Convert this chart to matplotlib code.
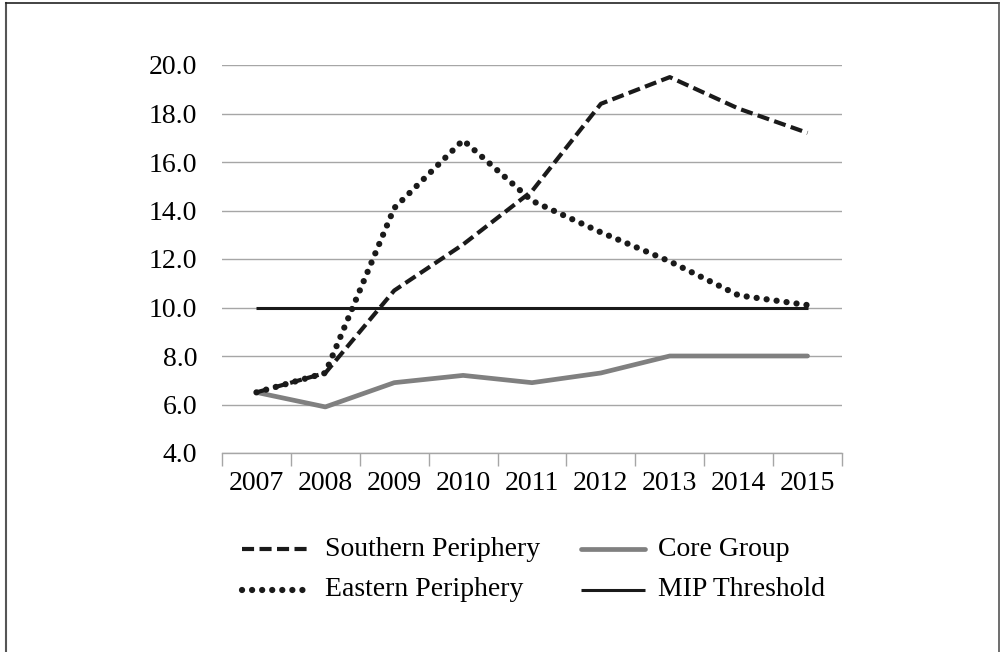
import matplotlib
matplotlib.use("Agg")
import matplotlib.pyplot as plt
from matplotlib.lines import Line2D
import numpy as np

years = ["2007", "2008", "2009", "2010", "2011", "2012", "2013", "2014", "2015"]
southern = [6.5, 7.3, 10.7, 12.6, 14.8, 18.4, 19.5, 18.2, 17.2]
eastern = [6.5, 7.3, 14.1, 16.9, 14.4, 13.1, 11.9, 10.5, 10.1]
core = [6.5, 5.9, 6.9, 7.2, 6.9, 7.3, 8.0, 8.0, 8.0]
mip = [10.0] * 9
yticks = [4, 6, 8, 10, 12, 14, 16, 18, 20]
labels = ["Southern Periphery", "Eastern Periphery", "Core Group", "MIP Threshold"]

plt.rcParams['font.family'] = ['Liberation Serif', 'DejaVu Serif']

W, H = 1001, 652
FS = 20
fig = plt.figure(figsize=(W / 100, H / 100), dpi=100)
ax = fig.add_axes([222 / W, 1 - 453 / H, (842 - 222) / W, (453 - 65) / H])

styles = {
    "Southern Periphery": dict(color='#1a1a1a', lw=3.0, linestyle=(0, (2.9, 1.3)), dash_capstyle='butt'),
    "Eastern Periphery": dict(color='#1a1a1a', lw=4.5, linestyle=(0, (0.01, 1.6)), dash_capstyle='round'),
    "Core Group": dict(color='#808080', lw=3.4, solid_capstyle='round'),
    "MIP Threshold": dict(color='#1a1a1a', lw=2.2, solid_capstyle='butt'),
}

x = np.arange(len(years))
ax.plot(x, mip, zorder=3, **styles["MIP Threshold"])
ax.plot(x, core, zorder=3, **styles["Core Group"])
ax.plot(x, southern, zorder=4, **styles["Southern Periphery"])
ax.plot(x, eastern, zorder=4, **styles["Eastern Periphery"])

ax.set_xlim(-0.5, len(years) - 0.5)
ax.set_ylim(4, 20)
ax.set_yticks(yticks)
ax.set_yticklabels([f"{v:.1f}" for v in yticks], fontsize=FS)
ax.yaxis.grid(True, color='#a6a6a6', lw=1.0)
ax.set_axisbelow(True)
ax.tick_params(axis='y', length=0, pad=18)

ax.set_xticks(x)
ax.set_xticklabels(years, fontsize=FS)
ax.set_xticks(np.arange(-0.5, len(years)), minor=True)
ax.tick_params(axis='x', which='major', length=0, pad=13)
ax.tick_params(axis='x', which='minor', length=9, color='#a6a6a6', width=1.0)

for s in ['left', 'right', 'top']:
    ax.spines[s].set_visible(False)
ax.spines['bottom'].set_color('#a6a6a6')
ax.spines['bottom'].set_linewidth(1.0)

# legend drawn manually (pixel positions)
def fx(px):
    return px / W

def fy(py):
    return 1 - py / H

leg_items = [
    ("Southern Periphery", 242, 312, 325, 549),
    ("Eastern Periphery", 242, 312, 325, 590),
    ("Core Group", 581, 645, 658, 549),
    ("MIP Threshold", 581, 645, 658, 590),
]
for name, x0, x1, tx, yy in leg_items:
    fig.add_artist(Line2D([fx(x0), fx(x1)], [fy(yy), fy(yy)], transform=fig.transFigure, **styles[name]))
    fig.text(fx(tx), fy(yy), name, fontsize=FS, va='center', ha='left')

# outer border
fig.add_artist(Line2D([5.5 / W, 5.5 / W], [0, 1 - 3 / H], color='#555555', lw=1.5, transform=fig.transFigure))
fig.add_artist(Line2D([5.5 / W, 999 / W], [1 - 3 / H, 1 - 3 / H], color='#222222', lw=1.2, transform=fig.transFigure))
fig.add_artist(Line2D([999 / W, 999 / W], [0, 1 - 3 / H], color='#555555', lw=1.2, transform=fig.transFigure))

fig.savefig("out.png", dpi=100)
